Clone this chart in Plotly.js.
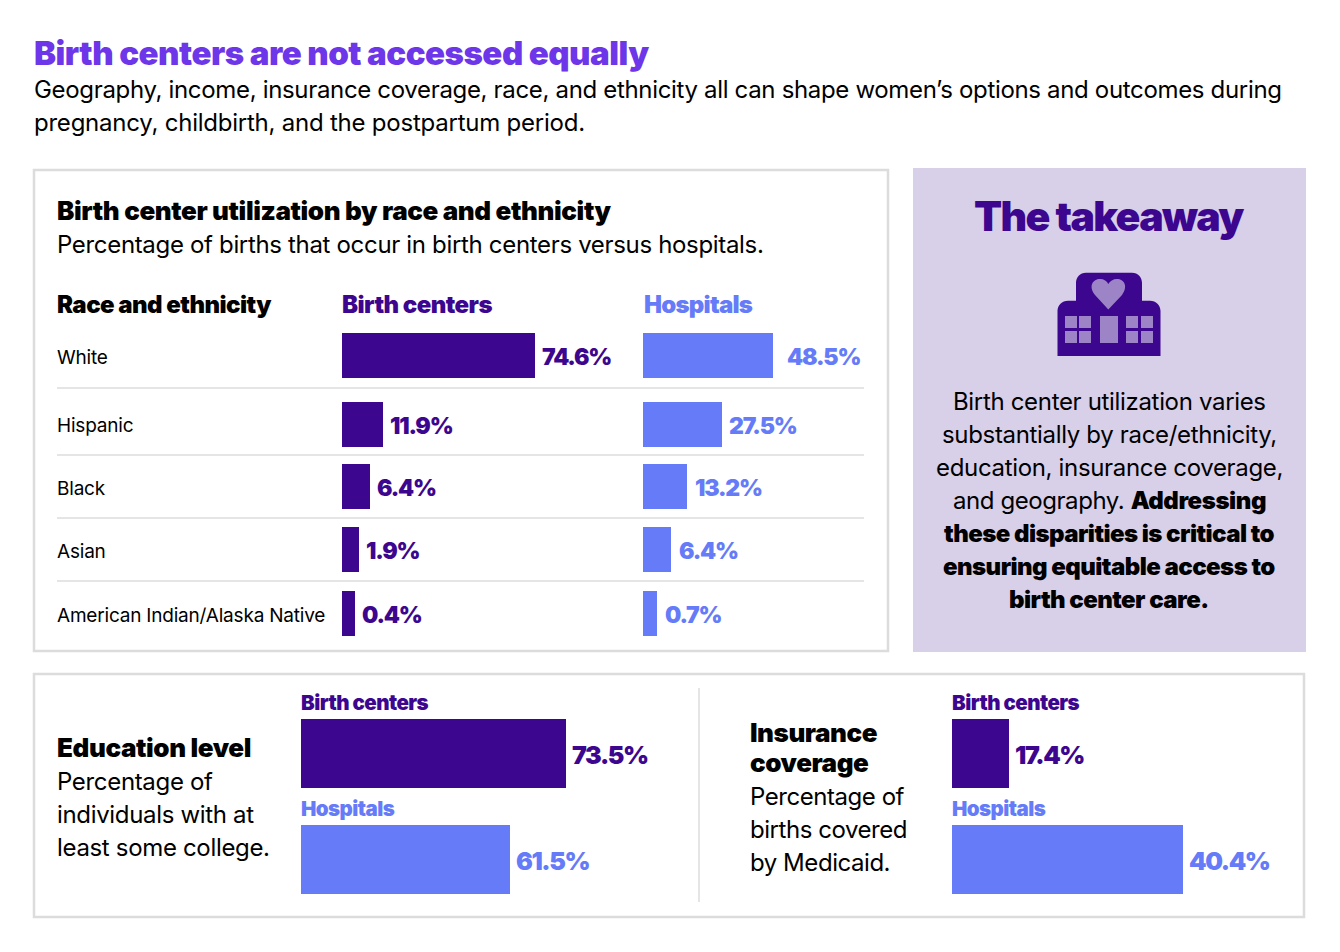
<!DOCTYPE html>
<html><head><meta charset="utf-8">
<script src="https://cdn.plot.ly/plotly-3.0.1.min.js"></script>
<style>html,body{margin:0;padding:0;background:#fff}#c{width:1340px;height:952px}</style>
</head><body><div id="c"></div>
<script>
const raceCategories = ["White","Hispanic","Black","Asian","American Indian/Alaska Native"];
const raceBirthCenters = [74.6,11.9,6.4,1.9,0.4];
const raceHospitals = [48.5,27.5,13.2,6.4,0.7];
const educationBirthCenters = [73.5];
const educationHospitals = [61.5];
const insuranceBirthCenters = [17.4];
const insuranceHospitals = [40.4];
const seriesNames = ["Birth centers","Hospitals"];

const W=1340,H=952;
const FONT='Inter, "Noto Sans", sans-serif';
const PURPLE='#3d068f',BLUE='#667bf7',VIOLET='#6d36e8',LILAC='#d8cfe9',MID='#9d84c6',GREY='#dcdcdc',BLACK='#000';
const px=x=>x/W, py=y=>1-y/H;
const dom=(a,b,S)=>[a/S,b/S];
const ydom=(top,bot)=>[1-bot/H,1-top/H];
const STUB=5; // race bars start this far left of zero

const data=[],ann=[],shapes=[],layout={};
const sp=(t,ls)=>'<span style="letter-spacing:'+ls+'px">'+t+'</span>';
function label(text,x,y,size,color,weight,anchor,ls){
  ann.push({text:ls?sp(text,ls):text,x:px(x),y:py(y),xref:'paper',yref:'paper',xanchor:anchor||'left',yanchor:'middle',showarrow:false,
    font:{family:FONT,size,color,weight:weight||400},borderpad:0,borderwidth:0,align:anchor==='center'?'center':'left'});
}
function vlabel(v,xa,ya,color,size,gap,ls){
  ann.push({text:sp(v.toFixed(1)+'%',ls),x:v,y:0,xref:xa,yref:ya,xanchor:'left',yanchor:'middle',xshift:gap,yshift:-1,showarrow:false,
    font:{family:FONT,size,color,weight:900},borderpad:0});
}
function xaxis(key,a,b,range){layout[key]={domain:dom(a,b,W),range,visible:false,fixedrange:true};}
function yaxis(key,top,bot,cat){layout[key]={domain:ydom(top,bot),range:[-0.5,0.5],visible:false,fixedrange:true,type:'category',categoryorder:'array',categoryarray:[cat],anchor:'x'};}
function bar(name,cat,v,xa,ya,color,base){
  const t={type:'bar',orientation:'h',name,y:[cat],x:[base===undefined?v:v-base],xaxis:xa,yaxis:ya,marker:{color,line:{width:0}},width:1,hoverinfo:'skip'};
  if(base!==undefined)t.base=base;
  data.push(t);
}
// axes
xaxis('xaxis',342,640,[-STUB,-STUB+298/2.42]);
xaxis('xaxis2',643,864,[-STUB,-STUB+221/2.43]);
xaxis('xaxis3',301,680,[16.7,16.7+379/4.667]);
xaxis('xaxis4',952,1290,[9.87,9.87+338/7.565]);
layout.xaxis2.anchor='y';layout.xaxis3.anchor='y';layout.xaxis4.anchor='y';

const rowTop=[333,402,464,527,591];
const rowH=45;
const rowLabelY=[357.5,425.5,488.5,551.5,615];
const hospGap=[13,6,7,7,7];
const BODY=-0.33;
const HEAVY=-0.55;
raceCategories.forEach((c,i)=>{
  const n=i+1, ya='y'+(n===1?'':n), yk='yaxis'+(n===1?'':n);
  yaxis(yk,rowTop[i],rowTop[i]+rowH,c);
  bar(seriesNames[0],c,raceBirthCenters[i],'x',ya,PURPLE,-STUB);
  bar(seriesNames[1],c,raceHospitals[i],'x2',ya,BLUE,-STUB);
  vlabel(raceBirthCenters[i],'x',ya,PURPLE,23,6,-1.2);
  vlabel(raceHospitals[i],'x2',ya,BLUE,23,hospGap[i],-1.2);
  label(c,57,rowLabelY[i],19,BLACK,400,'left',-0.2);
});
yaxis('yaxis6',719,788,seriesNames[0]+' top');
yaxis('yaxis7',825,894,seriesNames[1]+' bottom');
[['x3',educationBirthCenters[0],educationHospitals[0]],['x4',insuranceBirthCenters[0],insuranceHospitals[0]]].forEach(([xa,b,h])=>{
  bar(seriesNames[0],seriesNames[0]+' top',b,xa,'y6',PURPLE);
  bar(seriesNames[1],seriesNames[1]+' bottom',h,xa,'y7',BLUE);
  vlabel(b,xa,'y6',PURPLE,25,5,-1.4);
  vlabel(h,xa,'y7',BLUE,25,5,-1.4);
});

// Text
label('Birth centers are not accessed equally',34,53,33,VIOLET,900,'left',-0.5);
label('Geography, income, insurance coverage, race, and ethnicity all can shape women’s options and outcomes during',34,89.5,24,BLACK,400,'left',BODY);
label('pregnancy, childbirth, and the postpartum period.',34,122.5,24,BLACK,400,'left',-0.23);
label('Birth center utilization by race and ethnicity',57,210.5,26,BLACK,900,'left',-0.39);
label('Percentage of births that occur in birth centers versus hospitals.',57,245,24,BLACK,400,'left',BODY);
label('Race and ethnicity',57,304.5,24,BLACK,900,'left',HEAVY);
label(seriesNames[0],342,304.5,24,PURPLE,900,'left',HEAVY);
label(seriesNames[1],644,304.5,24,BLUE,900,'left',-0.75);
label('The takeaway',1109,216,41,PURPLE,900,'center',-1.6);
['Birth center utilization varies','substantially by race/ethnicity,','education, insurance coverage,'].forEach((t,i)=>label(t,1109,401.5+33*i,24,BLACK,400,'center',BODY));
ann.push({text:sp('and geography. <span style="font-weight:900">Addressing</span>',BODY-0.1),x:px(1109),y:py(500.5),xref:'paper',yref:'paper',xanchor:'center',yanchor:'middle',showarrow:false,font:{family:FONT,size:24,color:BLACK,weight:400},borderpad:0});
['these disparities is critical to','ensuring equitable access to','birth center care.'].forEach((t,i)=>label(t,1109,533.5+33*i,24,BLACK,900,'center',-0.55));
label('Education level',57,747.5,26,BLACK,900,'left',-0.4);
['Percentage of','individuals with at','least some college.'].forEach((t,i)=>label(t,57,781.5+33*i,24,BLACK,400,'left',BODY));
label(seriesNames[0],301,702.5,20.5,PURPLE,900,'left',HEAVY);
label(seriesNames[1],301,808.5,20.5,BLUE,900,'left',HEAVY);
label('Insurance',750,732.5,26,BLACK,900,'left',-0.45);
label('coverage',750,762.5,26,BLACK,900,'left',-0.45);
['Percentage of','births covered','by Medicaid.'].forEach((t,i)=>label(t,750,796.5+33*i,24,BLACK,400,'left',-0.45));
label(seriesNames[0],952,702.5,20.5,PURPLE,900,'left',HEAVY);
label(seriesNames[1],952,808.5,20.5,BLUE,900,'left',HEAVY);

// Panels
function rect(x0,y0,x1,y1,fill,line,lw,layer){shapes.push({type:'rect',xref:'paper',yref:'paper',x0:px(x0),x1:px(x1),y0:py(y0),y1:py(y1),fillcolor:fill||'rgba(0,0,0,0)',line:{color:line||'rgba(0,0,0,0)',width:lw||0},layer:layer||'below'});}
function hline(x0,x1,y,c,w){shapes.push({type:'line',xref:'paper',yref:'paper',x0:px(x0),x1:px(x1),y0:py(y),y1:py(y),line:{color:c,width:w},layer:'below'});}
function vline(x,y0,y1,c,w){shapes.push({type:'line',xref:'paper',yref:'paper',x0:px(x),x1:px(x),y0:py(y0),y1:py(y1),line:{color:c,width:w},layer:'below'});}
rect(34,170,888,651,'#fff',GREY,2.5);
rect(913,168,1306,652,LILAC);
rect(34,674,1304,917,'#fff',GREY,2.5);
[388,455,518,581].forEach(y=>hline(57,864,y,GREY,1.5));
vline(699,688,902,GREY,1.5);

// Icon
function P(cmds){return cmds.map(c=>c[0]+c.slice(1).reduce((s,v,i,a)=>{if(i%2===0)s.push(px(v)+','+py(a[i+1]));return s;},[]).join(' ')).join(' ');}
function path(cmds,fill){shapes.push({type:'path',xref:'paper',yref:'paper',path:P(cmds),fillcolor:fill,line:{width:0},layer:'above'});}
path([['M',1057.5,356],['L',1057.5,311],['C',1057.5,305,1062,300.7,1068,300.7],['L',1076,300.7],['L',1076,283],['C',1076,277,1080,272.7,1086,272.7],['L',1132,272.7],['C',1138,272.7,1142,277,1142,283],['L',1142,300.7],['L',1150,300.7],['C',1156,300.7,1160.5,305,1160.5,311],['L',1160.5,356],['Z']],PURPLE);
path([['M',1108.3,309.5],['L',1095,295],['C',1088,286,1093,279,1100,279],['C',1104,279,1107,281,1108.3,284],['C',1110,281,1113,279,1117,279],['C',1124,279,1128.5,286,1122,295],['Z']],MID);
[[1065,1077],[1079,1091],[1126,1138],[1141,1153]].forEach(([a,b])=>{
  [[316,328],[331,343]].forEach(([t,u])=>path([['M',a,t],['L',b,t],['L',b,u],['L',a,u],['Z']],MID));
});
path([['M',1100,316],['L',1118,316],['L',1118,343],['L',1100,343],['Z']],MID);

Object.assign(layout,{width:W,height:H,margin:{l:0,r:0,t:0,b:0,pad:0},paper_bgcolor:'#fff',plot_bgcolor:'rgba(0,0,0,0)',showlegend:false,bargap:0,barmode:'overlay',annotations:ann,shapes,font:{family:FONT},hovermode:false});
Plotly.newPlot('c',data,layout,{displayModeBar:false,staticPlot:true});
</script></body></html>
